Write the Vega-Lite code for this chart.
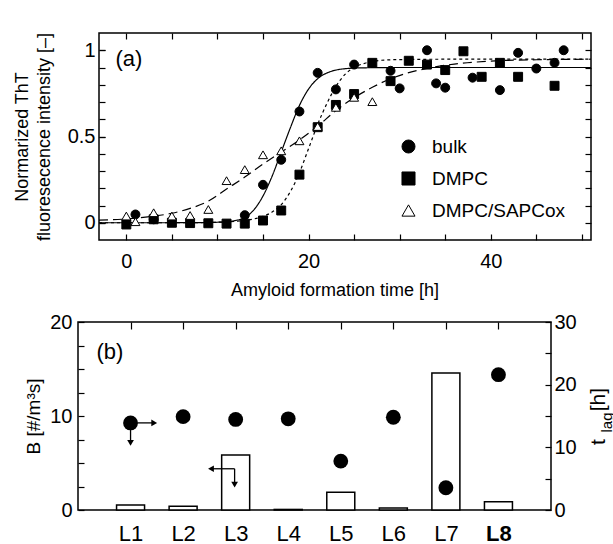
{
  "$schema": "https://vega.github.io/schema/vega-lite/v6.json",
  "padding": {"left": 0, "top": 32, "right": 0, "bottom": 0},
  "spacing": 12,
  "resolve": {"scale": {"shape": "independent", "fill": "independent", "stroke": "independent"}},
  "config": {
    "font": "Liberation Sans",
    "view": {"stroke": "black", "strokeWidth": 1.5},
    "axis": {
      "grid": false, "domain": false,
      "tickColor": "black", "tickWidth": 1.2, "tickSize": -6,
      "labelColor": "black", "titleColor": "black",
      "labelFont": "Liberation Sans", "titleFont": "Liberation Sans",
      "titleFontWeight": "normal", "labelFontSize": 20, "titleFontSize": 18,
      "labelOverlap": false, "labelFlush": false
    }
  },
  "datasets": {
    "curves": [
      {"series": "bulk", "t": -3, "v": 0}, {"series": "bulk", "t": 0, "v": 0}, {"series": "bulk", "t": 4, "v": 0},
      {"series": "bulk", "t": 8, "v": 0.001}, {"series": "bulk", "t": 10, "v": 0.003}, {"series": "bulk", "t": 11, "v": 0.006},
      {"series": "bulk", "t": 12, "v": 0.013}, {"series": "bulk", "t": 13, "v": 0.03}, {"series": "bulk", "t": 14, "v": 0.075},
      {"series": "bulk", "t": 15, "v": 0.155}, {"series": "bulk", "t": 16, "v": 0.27}, {"series": "bulk", "t": 17, "v": 0.41},
      {"series": "bulk", "t": 18, "v": 0.55}, {"series": "bulk", "t": 19, "v": 0.68}, {"series": "bulk", "t": 20, "v": 0.775},
      {"series": "bulk", "t": 21, "v": 0.835}, {"series": "bulk", "t": 22, "v": 0.868}, {"series": "bulk", "t": 23, "v": 0.885},
      {"series": "bulk", "t": 24, "v": 0.893}, {"series": "bulk", "t": 26, "v": 0.898}, {"series": "bulk", "t": 30, "v": 0.9},
      {"series": "bulk", "t": 40, "v": 0.9}, {"series": "bulk", "t": 51, "v": 0.9},
      {"series": "DMPC", "t": -3, "v": 0}, {"series": "DMPC", "t": 5, "v": 0}, {"series": "DMPC", "t": 10, "v": 0.003},
      {"series": "DMPC", "t": 12, "v": 0.008}, {"series": "DMPC", "t": 13, "v": 0.013}, {"series": "DMPC", "t": 14, "v": 0.022},
      {"series": "DMPC", "t": 15, "v": 0.037}, {"series": "DMPC", "t": 16, "v": 0.062}, {"series": "DMPC", "t": 17, "v": 0.105},
      {"series": "DMPC", "t": 18, "v": 0.18}, {"series": "DMPC", "t": 19, "v": 0.29}, {"series": "DMPC", "t": 20, "v": 0.43},
      {"series": "DMPC", "t": 21, "v": 0.57}, {"series": "DMPC", "t": 22, "v": 0.69}, {"series": "DMPC", "t": 23, "v": 0.79},
      {"series": "DMPC", "t": 24, "v": 0.86}, {"series": "DMPC", "t": 25, "v": 0.9}, {"series": "DMPC", "t": 26, "v": 0.922},
      {"series": "DMPC", "t": 27, "v": 0.935}, {"series": "DMPC", "t": 28, "v": 0.942}, {"series": "DMPC", "t": 30, "v": 0.946},
      {"series": "DMPC", "t": 35, "v": 0.948}, {"series": "DMPC", "t": 51, "v": 0.948},
      {"series": "DMPC/SAPCox", "t": -3, "v": 0.015}, {"series": "DMPC/SAPCox", "t": 0, "v": 0.022}, {"series": "DMPC/SAPCox", "t": 3, "v": 0.038},
      {"series": "DMPC/SAPCox", "t": 5, "v": 0.055}, {"series": "DMPC/SAPCox", "t": 7, "v": 0.083}, {"series": "DMPC/SAPCox", "t": 9, "v": 0.125},
      {"series": "DMPC/SAPCox", "t": 11, "v": 0.195}, {"series": "DMPC/SAPCox", "t": 13, "v": 0.265}, {"series": "DMPC/SAPCox", "t": 15, "v": 0.34},
      {"series": "DMPC/SAPCox", "t": 17, "v": 0.41}, {"series": "DMPC/SAPCox", "t": 19, "v": 0.48}, {"series": "DMPC/SAPCox", "t": 21, "v": 0.56},
      {"series": "DMPC/SAPCox", "t": 23, "v": 0.65}, {"series": "DMPC/SAPCox", "t": 25, "v": 0.725}, {"series": "DMPC/SAPCox", "t": 27, "v": 0.785},
      {"series": "DMPC/SAPCox", "t": 29, "v": 0.835}, {"series": "DMPC/SAPCox", "t": 31, "v": 0.87}, {"series": "DMPC/SAPCox", "t": 33, "v": 0.895},
      {"series": "DMPC/SAPCox", "t": 36, "v": 0.92}, {"series": "DMPC/SAPCox", "t": 40, "v": 0.937}, {"series": "DMPC/SAPCox", "t": 45, "v": 0.945},
      {"series": "DMPC/SAPCox", "t": 51, "v": 0.948}
    ],
    "points": [
      {"series": "bulk", "t": 1, "v": 0.048}, {"series": "bulk", "t": 3, "v": 0.02}, {"series": "bulk", "t": 13, "v": 0.044},
      {"series": "bulk", "t": 15, "v": 0.22}, {"series": "bulk", "t": 17, "v": 0.365}, {"series": "bulk", "t": 19, "v": 0.645},
      {"series": "bulk", "t": 21, "v": 0.869}, {"series": "bulk", "t": 23, "v": 0.773}, {"series": "bulk", "t": 25, "v": 0.917},
      {"series": "bulk", "t": 29, "v": 0.881}, {"series": "bulk", "t": 30, "v": 0.779}, {"series": "bulk", "t": 33, "v": 1.0},
      {"series": "bulk", "t": 34, "v": 0.808}, {"series": "bulk", "t": 35, "v": 0.783}, {"series": "bulk", "t": 38, "v": 0.841},
      {"series": "bulk", "t": 41, "v": 0.769}, {"series": "bulk", "t": 43, "v": 0.985}, {"series": "bulk", "t": 45, "v": 0.894},
      {"series": "bulk", "t": 47, "v": 0.927}, {"series": "bulk", "t": 48, "v": 1.0},
      {"series": "DMPC", "t": 0, "v": -0.01}, {"series": "DMPC", "t": 3, "v": 0.02}, {"series": "DMPC", "t": 5, "v": 0.0},
      {"series": "DMPC", "t": 7, "v": -0.002}, {"series": "DMPC", "t": 9, "v": -0.003}, {"series": "DMPC", "t": 11, "v": -0.005},
      {"series": "DMPC", "t": 13, "v": -0.005}, {"series": "DMPC", "t": 15, "v": 0.013}, {"series": "DMPC", "t": 17, "v": 0.071},
      {"series": "DMPC", "t": 19, "v": 0.279}, {"series": "DMPC", "t": 21, "v": 0.554}, {"series": "DMPC", "t": 23, "v": 0.683},
      {"series": "DMPC", "t": 25, "v": 0.746}, {"series": "DMPC", "t": 27, "v": 0.927}, {"series": "DMPC", "t": 29, "v": 0.821},
      {"series": "DMPC", "t": 31, "v": 0.939}, {"series": "DMPC", "t": 33, "v": 0.917}, {"series": "DMPC", "t": 35, "v": 0.885},
      {"series": "DMPC", "t": 37, "v": 0.994}, {"series": "DMPC", "t": 39, "v": 0.846}, {"series": "DMPC", "t": 41, "v": 0.927},
      {"series": "DMPC", "t": 43, "v": 0.846}, {"series": "DMPC", "t": 47, "v": 0.794},
      {"series": "DMPC/SAPCox", "t": 0, "v": 0.039}, {"series": "DMPC/SAPCox", "t": 1, "v": 0.006}, {"series": "DMPC/SAPCox", "t": 3, "v": 0.058},
      {"series": "DMPC/SAPCox", "t": 5, "v": 0.039}, {"series": "DMPC/SAPCox", "t": 7, "v": 0.042}, {"series": "DMPC/SAPCox", "t": 9, "v": 0.077},
      {"series": "DMPC/SAPCox", "t": 11, "v": 0.244}, {"series": "DMPC/SAPCox", "t": 13, "v": 0.308}, {"series": "DMPC/SAPCox", "t": 15, "v": 0.394},
      {"series": "DMPC/SAPCox", "t": 17, "v": 0.417}, {"series": "DMPC/SAPCox", "t": 19, "v": 0.475}, {"series": "DMPC/SAPCox", "t": 21, "v": 0.558},
      {"series": "DMPC/SAPCox", "t": 23, "v": 0.669}, {"series": "DMPC/SAPCox", "t": 25, "v": 0.727}, {"series": "DMPC/SAPCox", "t": 27, "v": 0.702}
    ],
    "lag": [
      {"cat": "L1", "B": 0.53, "t": 13.9}, {"cat": "L2", "B": 0.4, "t": 14.9},
      {"cat": "L3", "B": 5.85, "t": 14.45}, {"cat": "L4", "B": 0.06, "t": 14.55},
      {"cat": "L5", "B": 1.88, "t": 7.8}, {"cat": "L6", "B": 0.2, "t": 14.8},
      {"cat": "L7", "B": 14.58, "t": 3.55}, {"cat": "L8", "B": 0.88, "t": 21.6}
    ],
    "arrows": [
      {"x": 1.13, "y": 13.9, "x2": 1.45, "y2": 13.9},
      {"x": 1.0, "y": 12.8, "x2": 1.0, "y2": 10.7},
      {"x": 2.98, "y": 6.58, "x2": 2.53, "y2": 6.58},
      {"x": 2.98, "y": 6.58, "x2": 2.98, "y2": 4.05}
    ],
    "heads": [
      {"x": 1.45, "y": 13.9, "dir": "right"},
      {"x": 1.0, "y": 10.7, "dir": "down"},
      {"x": 2.53, "y": 6.58, "dir": "left"},
      {"x": 2.98, "y": 4.05, "dir": "down"}
    ]
  },
  "vconcat": [
    {
      "width": 513, "height": 207,
      "view": {"stroke": null},
      "layer": [
        {
          "layer": [
            {
              "data": {"name": "curves"},
              "mark": {"type": "line", "color": "black", "strokeWidth": 1.2, "interpolate": "monotone"},
              "encoding": {
                "x": {"field": "t", "type": "quantitative",
                      "scale": {"domain": [-5.305, 51], "nice": false, "zero": false},
                      "axis": {"orient": "bottom", "title": "Amyloid formation time [h]",
                               "values": [0, 5, 10, 15, 20, 25, 30, 35, 40, 45, 50], "labelOverlap": false,
                               "labelExpr": "datum.value % 20 === 0 ? datum.label : ''",
                               "labelPadding": 17, "titlePadding": 10}},
                "y": {"field": "v", "type": "quantitative",
                      "scale": {"domain": [-0.1, 1.1], "nice": false, "zero": false},
                      "axis": {"orient": "left", "offset": -21, "title": ["Normarized ThT", "fluoresecence intensity [–]"],
                               "titleLineHeight": 22, "titleX": -77, "titleY": 103.5, "titleAngle": 270,
                               "titleAlign": "center", "titleBaseline": "middle",
                               "values": [0, 0.5, 1], "format": "~g", "labelOverlap": false,
                               "labelPadding": 10}},
                "strokeDash": {"field": "series", "type": "nominal",
                               "scale": {"domain": ["bulk", "DMPC", "DMPC/SAPCox"], "range": [[1, 0], [3, 3], [9, 5]]},
                               "legend": null}
              }
            },
            {
              "data": {"values": [{}]},
              "mark": {"type": "rect", "fillOpacity": 0, "stroke": "black", "strokeWidth": 1.5},
              "encoding": {
                "x": {"datum": -3, "type": "quantitative"},
                "x2": {"datum": 51},
                "y": {"datum": -0.1, "type": "quantitative"},
                "y2": {"datum": 1.1}
              }
            },
            {
              "data": {"values": [{}]},
              "mark": {"type": "text", "text": "(a)", "fontSize": 22, "align": "left", "baseline": "middle", "color": "black"},
              "encoding": {"x": {"datum": -1.2, "type": "quantitative"}, "y": {"datum": 0.95, "type": "quantitative"}}
            }
          ]
        },
        {
          "data": {"values": [{}]},
          "mark": {"type": "point", "opacity": 0},
          "encoding": {
            "x": {"datum": 0, "type": "quantitative", "scale": {"domain": [-5.305, 51], "nice": false, "zero": false}, "axis": null},
            "y": {"datum": 0, "type": "quantitative", "scale": {"domain": [-0.1, 1.1], "nice": false, "zero": false},
                  "axis": {"orient": "left", "offset": -21, "title": null, "labels": false,
                           "values": [0, 0.1, 0.2, 0.3, 0.4, 0.5, 0.6, 0.7, 0.8, 0.9, 1]}}
          }
        },
        {
          "data": {"name": "points"},
          "mark": {"type": "point", "filled": true, "opacity": 1, "strokeWidth": 1, "size": 80},
          "encoding": {
            "x": {"field": "t", "type": "quantitative",
                  "scale": {"domain": [-5.305, 51], "nice": false, "zero": false},
                  "axis": {"orient": "top", "title": null, "labels": false,
                           "values": [0, 5, 10, 15, 20, 25, 30, 35, 40, 45, 50]}},
            "y": {"field": "v", "type": "quantitative",
                  "scale": {"domain": [-0.1, 1.1], "nice": false, "zero": false},
                  "axis": {"orient": "right", "title": null, "labels": false,
                           "values": [0, 0.1, 0.2, 0.3, 0.4, 0.5, 0.6, 0.7, 0.8, 0.9, 1]}},
            "shape": {"field": "series", "type": "nominal",
                      "scale": {"domain": ["bulk", "DMPC", "DMPC/SAPCox"], "range": ["circle", "square", "triangle-up"]},
                      "legend": {"title": null, "orient": "none", "legendX": 321, "legendY": 104,
                                 "symbolSize": 170, "labelFontSize": 19, "labelOffset": 14, "rowPadding": 12,
                                 "symbolStrokeWidth": 1, "labelColor": "black"}},
            "fill": {"field": "series", "type": "nominal",
                     "scale": {"domain": ["bulk", "DMPC", "DMPC/SAPCox"], "range": ["black", "black", "white"]},
                     "legend": {"title": null, "orient": "none", "legendX": 321, "legendY": 104,
                                "symbolSize": 170, "labelFontSize": 19, "labelOffset": 14, "rowPadding": 12,
                                "symbolStrokeWidth": 1, "labelColor": "black"}},
            "stroke": {"field": "series", "type": "nominal",
                       "scale": {"domain": ["bulk", "DMPC", "DMPC/SAPCox"], "range": ["black", "black", "black"]},
                       "legend": {"title": null, "orient": "none", "legendX": 321, "legendY": 104,
                                  "symbolSize": 170, "labelFontSize": 19, "labelOffset": 14, "rowPadding": 12,
                                  "symbolStrokeWidth": 1, "labelColor": "black"}}
          }
        }
      ],
      "resolve": {"scale": {"x": "independent", "y": "independent"}}
    },
    {
      "width": 473, "height": 188,
      "layer": [
        {
          "data": {"name": "lag"},
          "layer": [
            {
              "mark": {"type": "bar", "width": 28, "fill": "white", "stroke": "black", "strokeWidth": 1.5},
              "encoding": {
                "x": {"field": "cat", "type": "nominal", "scale": {"type": "point", "padding": 1},
                      "axis": {"orient": "bottom", "title": null, "ticks": false, "labelAngle": 0,
                               "labelFontSize": 22, "labelPadding": 13,
                               "labelFontWeight": {"condition": {"test": "datum.value === 'L8'", "value": "bold"}, "value": "normal"}}},
                "y": {"field": "B", "type": "quantitative", "scale": {"domain": [0, 20], "nice": false},
                      "axis": {"orient": "left", "title": "B [#/m³s]", "titleFontSize": 19,
                               "titleX": -45, "titleY": 94, "titleAngle": 270,
                               "titleAlign": "center", "titleBaseline": "middle", "minExtent": 77,
                               "values": [0, 2.5, 5, 7.5, 10, 12.5, 15, 17.5, 20], "labelOverlap": false,
                               "labelExpr": "datum.value % 10 === 0 ? datum.label : ''",
                               "labelPadding": 12}}
              }
            },
            {
              "mark": {"type": "circle", "size": 220, "color": "black", "opacity": 1},
              "encoding": {
                "x": {"field": "cat", "type": "nominal"},
                "y": {"field": "t", "type": "quantitative", "scale": {"domain": [0, 30], "nice": false},
                      "axis": {"orient": "right", "title": "t\u2003\u2004[h]", "titleFontSize": 21, "titleAngle": 270,
                               "titleX": 47, "titleY": 94, "titleAlign": "center", "titleBaseline": "middle",
                               "values": [0, 5, 10, 15, 20, 25, 30], "labelOverlap": false,
                               "labelExpr": "datum.value % 10 === 0 ? datum.label : ''",
                               "labelPadding": 9}}
              }
            }
          ],
          "resolve": {"scale": {"y": "independent"}}
        },
        {
          "layer": [
            {
              "data": {"name": "arrows"},
              "mark": {"type": "rule", "color": "black", "strokeWidth": 1.3},
              "encoding": {
                "x": {"field": "x", "type": "quantitative", "scale": {"domain": [0, 9], "nice": false, "zero": false},
                      "axis": {"orient": "top", "title": null, "labels": false, "values": [1, 2, 3, 4, 5, 6, 7, 8], "tickSize": -7}},
                "y": {"field": "y", "type": "quantitative", "scale": {"domain": [0, 30], "nice": false},
                      "axis": {"orient": "right", "title": "lag", "titleFontSize": 15, "titleAngle": 270,
                               "labels": false, "ticks": false, "titleX": 55, "titleY": 100,
                               "titleAlign": "center", "titleBaseline": "middle"}},
                "x2": {"field": "x2"},
                "y2": {"field": "y2"}
              }
            },
            {
              "data": {"name": "heads"},
              "mark": {"type": "point", "filled": true, "color": "black", "opacity": 1, "size": 45},
              "encoding": {
                "x": {"field": "x", "type": "quantitative"},
                "y": {"field": "y", "type": "quantitative"},
                "shape": {"field": "dir", "type": "nominal",
                          "scale": {"domain": ["right", "down", "left"], "range": ["triangle-right", "triangle-down", "triangle-left"]},
                          "legend": null}
              }
            },
            {
              "data": {"values": [{}]},
              "mark": {"type": "text", "text": "(b)", "fontSize": 22, "align": "left", "baseline": "middle", "color": "black"},
              "encoding": {"x": {"datum": 0.35}, "y": {"datum": 25.2}}
            }
          ]
        }
      ],
      "resolve": {"scale": {"x": "independent", "y": "independent"}}
    }
  ]
}
